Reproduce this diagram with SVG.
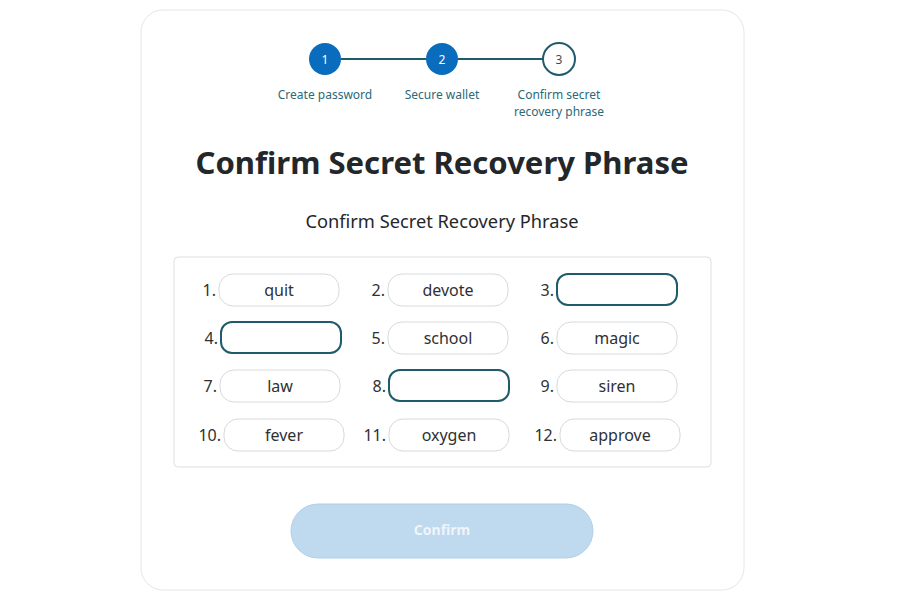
<svg xmlns="http://www.w3.org/2000/svg" width="900" height="600" viewBox="0 0 900 600">
<defs>
<style>
text{font-family:"Noto Sans","Liberation Sans",sans-serif;}
.step{font-size:12px;fill:#2a6a79;text-anchor:middle;}
.num{font-size:16px;fill:#2e3134;text-anchor:end;}
.word{font-size:16px;fill:#2e3134;text-anchor:middle;}
.pill{fill:#fff;stroke:#d6d9dc;stroke-width:1;}
.active{fill:#fff;stroke:#1f5c6b;stroke-width:2;}
.dot{fill:#0a6cbd;}
.dtxt{font-size:12px;fill:#fff;text-anchor:middle;}
</style>
</defs>
<rect x="0" y="0" width="900" height="600" fill="#fff"/>
<rect id="card" x="141" y="10" width="603" height="580" rx="22" fill="#fff" stroke="#e4e6e8"/>
<g id="connectors">
<line x1="341" y1="59" x2="426" y2="59" stroke="#1f5c6b" stroke-width="2"/>
<line x1="458" y1="59" x2="543" y2="59" stroke="#1f5c6b" stroke-width="2"/>
</g>
<g id="step1"><circle cx="325" cy="59" r="16" class="dot"/><text x="325" y="63.5" class="dtxt">1</text><text x="325" y="99" class="step">Create password</text></g>
<g id="step2"><circle cx="442" cy="59" r="16" class="dot"/><text x="442" y="63.5" class="dtxt">2</text><text x="442" y="99" class="step">Secure wallet</text></g>
<g id="step3"><circle cx="559" cy="59" r="16" fill="#fff" stroke="#1f5c6b" stroke-width="2"/><text x="559" y="63.5" class="step" style="fill:#3c4a50">3</text><text x="559" y="99" class="step">Confirm secret</text><text x="559" y="116" class="step">recovery phrase</text></g>
<text id="title" x="442" y="174" font-size="30" font-weight="bold" fill="#24272a" text-anchor="middle" textLength="493" lengthAdjust="spacingAndGlyphs">Confirm Secret Recovery Phrase</text>
<text id="subtitle" x="442" y="228" font-size="18" fill="#24272a" text-anchor="middle" textLength="273" lengthAdjust="spacingAndGlyphs">Confirm Secret Recovery Phrase</text>
<rect id="wordbox" x="174" y="257" width="537" height="210" rx="4" fill="#fff" stroke="#dcdfe2"/>
<g id="w1"><text x="216" y="296" class="num">1.</text><rect x="219" y="274" width="120" height="32" rx="14" class="pill"/><text x="279" y="296" class="word">quit</text></g>
<g id="w2"><text x="385" y="296" class="num">2.</text><rect x="388" y="274" width="120" height="32" rx="14" class="pill"/><text x="448" y="296" class="word">devote</text></g>
<g id="w3"><text x="554" y="296" class="num">3.</text><rect x="557" y="274" width="120" height="31" rx="11" class="active"/></g>
<g id="w4"><text x="218" y="344" class="num">4.</text><rect x="221" y="322" width="120" height="31" rx="11" class="active"/></g>
<g id="w5"><text x="385" y="344" class="num">5.</text><rect x="388" y="322" width="120" height="32" rx="14" class="pill"/><text x="448" y="344" class="word">school</text></g>
<g id="w6"><text x="554" y="344" class="num">6.</text><rect x="557" y="322" width="120" height="32" rx="14" class="pill"/><text x="617" y="344" class="word">magic</text></g>
<g id="w7"><text x="217" y="392" class="num">7.</text><rect x="220" y="370" width="120" height="32" rx="14" class="pill"/><text x="280" y="392" class="word">law</text></g>
<g id="w8"><text x="386" y="392" class="num">8.</text><rect x="389" y="370" width="120" height="31" rx="11" class="active"/></g>
<g id="w9"><text x="554" y="392" class="num">9.</text><rect x="557" y="370" width="120" height="32" rx="14" class="pill"/><text x="617" y="392" class="word">siren</text></g>
<g id="w10"><text x="221" y="441" class="num">10.</text><rect x="224" y="419" width="120" height="32" rx="14" class="pill"/><text x="284" y="441" class="word">fever</text></g>
<g id="w11"><text x="386" y="441" class="num">11.</text><rect x="389" y="419" width="120" height="32" rx="14" class="pill"/><text x="449" y="441" class="word">oxygen</text></g>
<g id="w12"><text x="557" y="441" class="num">12.</text><rect x="560" y="419" width="120" height="32" rx="14" class="pill"/><text x="620" y="441" class="word">approve</text></g>
<g id="confirm"><rect x="291" y="504" width="302" height="54" rx="27" fill="#bfd9ef" stroke="#b3cfe6"/><text x="442" y="535" font-size="14" font-weight="bold" fill="#eef5fb" text-anchor="middle">Confirm</text></g>
</svg>
